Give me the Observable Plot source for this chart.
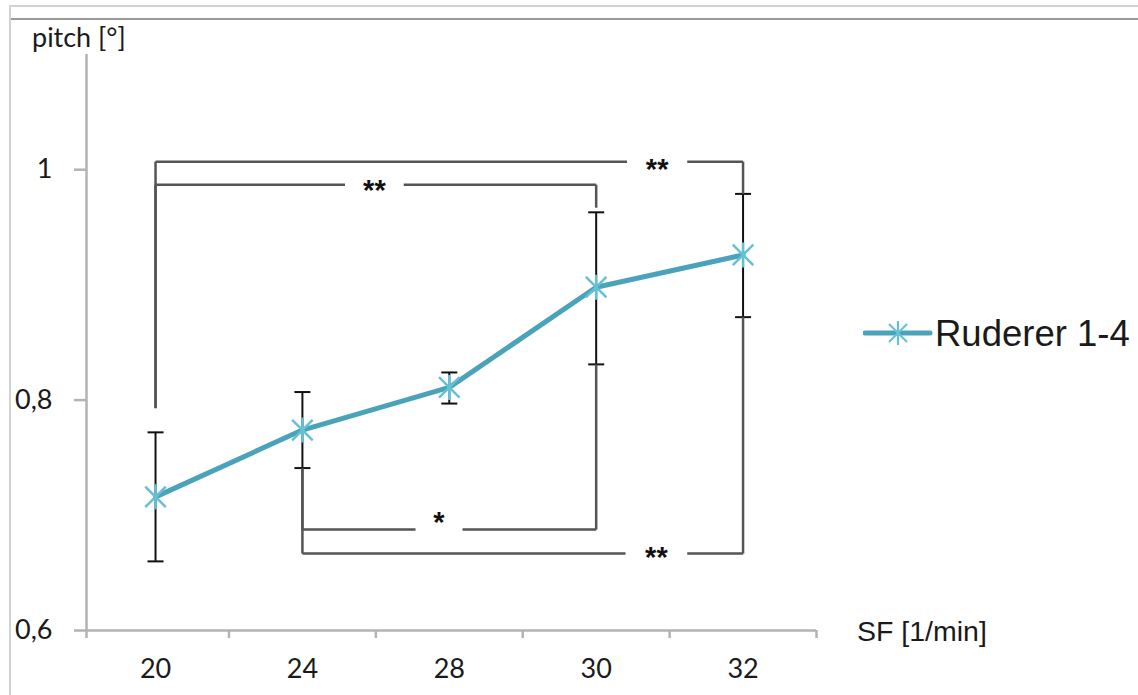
<!DOCTYPE html>
<html>
<head>
<meta charset="utf-8">
<script src="https://cdn.jsdelivr.net/npm/d3@7"></script>
<script src="https://cdn.jsdelivr.net/npm/@observablehq/plot@0.6"></script>
<style>
  html, body { margin: 0; padding: 0; background: #fff; }
  #wrap { position: relative; width: 1138px; height: 695px; overflow: hidden; background: #fff; }
  #wrap svg.plot { position: absolute; left: 0; top: 0; }
  .frameTop { position: absolute; left: 10px; right: 0; top: 5px; height: 2px; background: #d2d2d2; }
  .frameLeft { position: absolute; left: 9px; top: 5px; bottom: 0; width: 2px; background: #d2d2d2; }
  .frameTop2 { position: absolute; left: 11px; right: 0; top: 18px; height: 2px; background: #9a9a9a; }
  .lbl { position: absolute; line-height: 1; white-space: nowrap; color: #1a1a1a; }
</style>
</head>
<body>
<div id="wrap">
  <div class="frameTop"></div>
  <div class="frameTop2"></div>
  <div class="frameLeft"></div>
</div>
<script>
// ---- data ----
const sf = ["20", "24", "28", "30", "32"];           // SF [1/min] categories
const pitch = [0.716, 0.774, 0.811, 0.898, 0.926];   // mean pitch [°]
const sdLow = [0.660, 0.741, 0.797, 0.831, 0.872];   // lower error bar
const sdHigh = [0.772, 0.807, 0.824, 0.963, 0.979];  // upper error bar
const yTicks = [0.6, 0.8, 1];
const seriesName = "Ruderer 1-4";

// significance brackets (category index from/to, bracket level, end values, label)
const brFrom = [0, 0, 1, 1];
const brTo = [4, 3, 3, 4];
const brLevel = [1.007, 0.987, 0.6876, 0.6668];
const brFromEnd = [0.793, 0.793, 0.7406, 0.7406];
const brToEnd = [0.979, 0.967, 0.831, 0.872];
const brLabel = ["**", "**", "*", "**"];
const brLabelY = [1.006, 0.988, 0.700, 0.669];
const brGapFrom = [3.21, 1.29, 1.77, 3.20];
const brGapTo = [3.62, 1.69, 2.09, 3.62];

// ---- derived ----
const idx = sf.map((_, i) => i);
const xMin = -0.47, xMax = 4.5;
const boundaries = [xMin, 0.5, 1.5, 2.5, 3.5, xMax];
const yFmt = v => (v === 1 ? "1" : String(v).replace(".", ","));

const segs = [];
brFrom.forEach((f, k) => {
  const t = brTo[k];
  segs.push({x1: f, x2: f, y1: brFromEnd[k], y2: brLevel[k]});
  segs.push({x1: f, x2: brGapFrom[k], y1: brLevel[k], y2: brLevel[k]});
  segs.push({x1: brGapTo[k], x2: t, y1: brLevel[k], y2: brLevel[k]});
  segs.push({x1: t, x2: t, y1: brLevel[k], y2: brToEnd[k]});
});
const brIdx = brFrom.map((_, k) => k);

const caps = [];
idx.forEach(i => { caps.push({x: i, y: sdLow[i]}); caps.push({x: i, y: sdHigh[i]}); });

const capSymbol = {
  draw(ctx, size) {
    const r = Math.sqrt(size / Math.PI);
    ctx.moveTo(-r, 0); ctx.lineTo(r, 0);
  }
};
const starSymbol = {
  draw(ctx, size) {
    const r = Math.sqrt(size / Math.PI);
    const d = r * 0.82;
    ctx.moveTo(-d, -d); ctx.lineTo(d, d);
    ctx.moveTo(-d, d); ctx.lineTo(d, -d);
    ctx.moveTo(0, -r); ctx.lineTo(0, r);
  }
};

const axisGray = "#b3b3b3";
const lineColor = "#4aa3ba";
const markColor = "#66c0d5";

const chart = Plot.plot({
  width: 1138,
  height: 695,
  marginLeft: 86,
  marginRight: 322,
  marginTop: 54,
  marginBottom: 65,
  x: {type: "linear", domain: [xMin, xMax], axis: null},
  y: {domain: [0.6, 1.1], axis: null},
  style: {fontFamily: "Lato, sans-serif", fontSize: "27px", background: "transparent", color: "#1a1a1a"},
  marks: [
    Plot.ruleY([0.6], {stroke: axisGray, strokeWidth: 2.5}),
    Plot.ruleX([xMin], {stroke: axisGray, strokeWidth: 2.5}),
    Plot.axisX({ticks: boundaries, tickSize: 8, tickFormat: () => "", stroke: axisGray, strokeWidth: 2.5, label: null}),
    Plot.axisX({ticks: idx, tickSize: 0, tickPadding: 28, tickFormat: i => sf[i], fill: "#1a1a1a", label: null}),
    Plot.axisY({ticks: yTicks, tickSize: 12, tickPadding: 22, tickFormat: yFmt, stroke: axisGray, strokeWidth: 2.5, fill: "#1a1a1a", label: null}),
    // error bars
    Plot.ruleX(idx, {x: i => i, y1: i => sdLow[i], y2: i => sdHigh[i], stroke: "#111", strokeWidth: 2}),
    Plot.dot(caps, {x: "x", y: "y", symbol: capSymbol, r: 8, stroke: "#111", strokeWidth: 2}),
    // significance brackets
    Plot.link(segs, {x1: "x1", y1: "y1", x2: "x2", y2: "y2", stroke: "#555", strokeWidth: 2.5}),
    Plot.text(brIdx, {
      x: k => (brGapFrom[k] + brGapTo[k]) / 2,
      y: k => brLabelY[k],
      text: k => brLabel[k],
      fontFamily: "Liberation Sans, Arial, sans-serif",
      fontSize: 29,
      fontWeight: "bold",
      fill: "#111",
      dy: 7
    }),
    // series
    Plot.line(idx, {x: i => i, y: i => pitch[i], stroke: lineColor, strokeWidth: 5, strokeLinejoin: "round", strokeLinecap: "round"}),
    Plot.dot(idx, {x: i => i, y: i => pitch[i], symbol: starSymbol, r: 12.5, stroke: markColor, strokeWidth: 2.5})
  ]
});
chart.classList.add("plot");
const wrap = document.getElementById("wrap");
wrap.appendChild(chart);

// axis titles
const yTitle = document.createElement("div");
yTitle.className = "lbl";
yTitle.style.cssText = "left:32px;top:23px;font-family:Lato,sans-serif;font-size:27px;";
yTitle.textContent = "pitch [°]";
wrap.appendChild(yTitle);

const xTitle = document.createElement("div");
xTitle.className = "lbl";
xTitle.style.cssText = "left:857px;top:617px;font-family:'Liberation Sans',Arial,sans-serif;font-size:28.5px;";
xTitle.textContent = "SF [1/min]";
wrap.appendChild(xTitle);

// legend
const leg = document.createElement("div");
leg.style.cssText = "position:absolute;left:863px;top:321px;width:70px;height:26px;";
leg.innerHTML = `<svg width="70" height="26" viewBox="0 0 70 26">
  <line x1="2" y1="12" x2="67" y2="12" stroke="${lineColor}" stroke-width="5" stroke-linecap="round"/>
  <g stroke="${markColor}" stroke-width="2.2">
    <line x1="26" y1="3" x2="44" y2="21"/><line x1="26" y1="21" x2="44" y2="3"/><line x1="35" y1="0" x2="35" y2="24"/>
  </g>
</svg>`;
wrap.appendChild(leg);
const legText = document.createElement("div");
legText.className = "lbl";
legText.style.cssText = "left:935px;top:316px;font-family:'Liberation Sans',Arial,sans-serif;font-size:36.5px;";
legText.textContent = seriesName;
wrap.appendChild(legText);
</script>
</body>
</html>
